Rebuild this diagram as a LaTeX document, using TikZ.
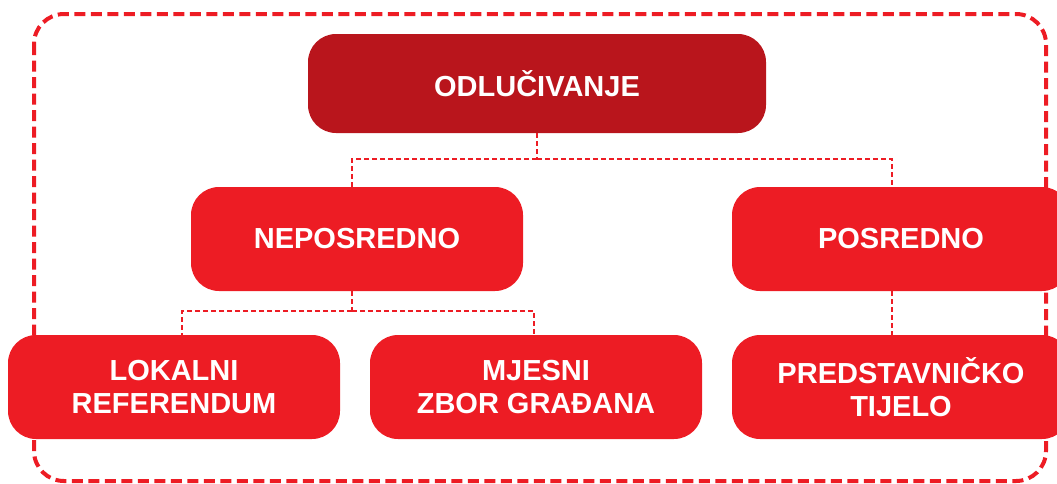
\documentclass[tikz,border=0pt]{standalone}
\usepackage{fontspec}
\setmainfont{Liberation Sans}
\definecolor{darkred}{RGB}{185,21,28}
\definecolor{brightred}{RGB}{237,28,36}
\tikzset{
  box/.style={fill=brightred, rounded corners=28pt, minimum width=332pt, minimum height=104pt,
    inner sep=0pt, text=white, align=center, font=\fontsize{29}{33}\selectfont\bfseries},
  topbox/.style={box, fill=darkred, minimum width=458pt, minimum height=99pt},
  conn/.style={draw=brightred, line width=2pt, dash pattern=on 5pt off 3pt},
  frame/.style={draw=brightred, line width=4pt, dash pattern=on 11pt off 5.5pt, rounded corners=30pt}
}
\begin{document}
\begin{tikzpicture}[x=1pt,y=-1pt]
\useasboundingbox (0,0) rectangle (1057,483);
\draw[frame] (34,14) rectangle (1046,481);
\node[topbox] (top) at (537,83.5) {ODLUČIVANJE};
\node[box] (nep) at (357,239) {NEPOSREDNO};
\node[box, minimum width=338pt] (pos) at (901,239) {POSREDNO};
\node[box] (lok) at (174,387) {LOKALNI\\REFERENDUM};
\node[box] (mje) at (536,387) {MJESNI\\ZBOR GRAĐANA};
\node[box, minimum width=338pt] (pre) at (901,387) {PREDSTAVNIČKO\\TIJELO};
\coordinate (j1) at (537,159);
\coordinate (j2) at (352,311);
\draw[conn] (top.south) -- (j1);
\draw[conn] (j1) -| ([xshift=-5pt]nep.north);
\draw[conn] (j1) -| ([xshift=-9pt]pos.north);
\draw[conn] ([xshift=-5pt]nep.south) -- (j2);
\draw[conn] (j2) -| ([xshift=8pt]lok.north);
\draw[conn] (j2) -| ([xshift=-2pt]mje.north);
\draw[conn] ([xshift=-9pt]pos.south) -- ([xshift=-9pt]pre.north);
\end{tikzpicture}
\end{document}
